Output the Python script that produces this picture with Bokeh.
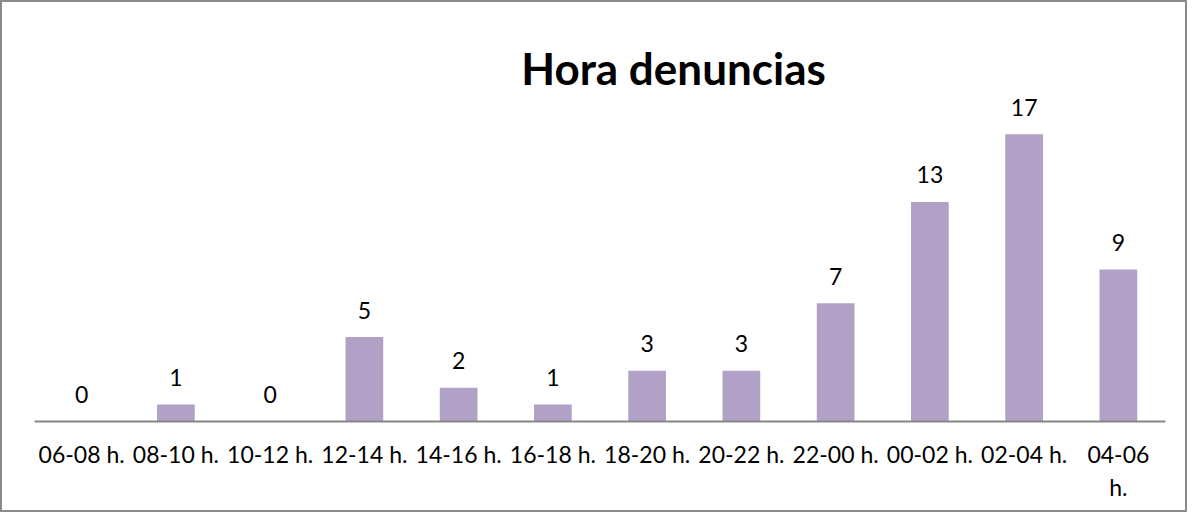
from bokeh.plotting import figure
from bokeh.models import ColumnDataSource, FixedTicker, Range1d, Label
from bokeh.core.properties import value
from bokeh.embed import file_html
from bokeh.resources import INLINE

categories = ["06-08 h.", "08-10 h.", "10-12 h.", "12-14 h.", "14-16 h.", "16-18 h.",
              "18-20 h.", "20-22 h.", "22-00 h.", "00-02 h.", "02-04 h.", "04-06\nh."]
counts = [0, 1, 0, 5, 2, 1, 3, 3, 7, 13, 17, 9]
title_text = "Hora denuncias"

FONT = "Lato"
BAR = "#B2A1C7"
GREY = "#868686"

xs = [i + 0.5 for i in range(len(categories))]
src = ColumnDataSource(dict(x=xs, top=counts, lab=[str(c) for c in counts]))

p = figure(width=1187, height=512, output_backend="svg", toolbar_location=None,
           x_range=Range1d(0, len(categories)), y_range=Range1d(0, 23.5),
           min_border_left=32, min_border_right=24, min_border_top=22, min_border_bottom=93)
p.styles = {"border": "2px solid #8a8a8a", "box-sizing": "border-box"}

p.vbar(x="x", top="top", width=0.4, bottom=0, source=src, fill_color=BAR, line_color=None)
p.text(x="x", y="top", text="lab", source=src, text_align="center", text_baseline="middle",
       y_offset=-27, text_font=value(FONT), text_font_size="23px", text_color="#000000")

p.add_layout(Label(x=6.78, y=20.95, text=title_text, text_align="center", text_baseline="middle",
                   text_font=FONT, text_font_size="44px", text_font_style="bold",
                   text_color="#000000"))

p.yaxis.visible = False
p.xgrid.visible = False
p.ygrid.visible = False
p.outline_line_color = None

ax = p.xaxis[0]
ax.ticker = FixedTicker(ticks=xs)
ax.major_label_overrides = {x: c for x, c in zip(xs, categories)}
ax.major_tick_line_color = None
ax.minor_tick_line_color = None
ax.axis_line_color = GREY
ax.axis_line_width = 2
ax.major_label_standoff = 12
ax.major_label_text_font = FONT
ax.major_label_text_font_size = "23px"
ax.major_label_text_color = "#000000"

open("out.html", "w").write(file_html(p, INLINE))
